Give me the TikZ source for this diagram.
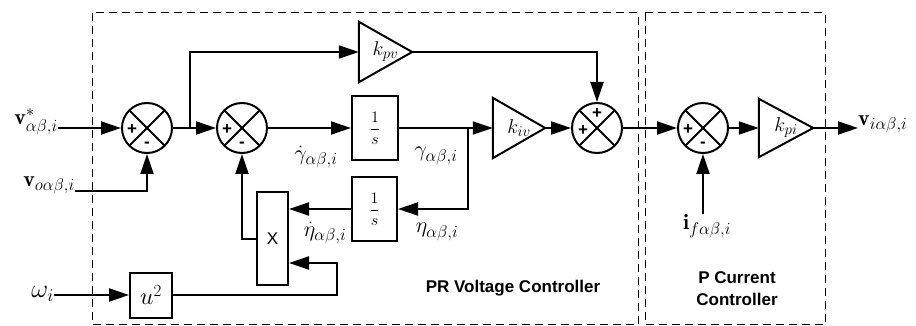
\documentclass[tikz,border=0pt]{standalone}
\usepackage{fix-cm}
\usepackage{amsmath}
\usepackage{fontspec}
\setsansfont{Liberation Sans}
\usetikzlibrary{arrows.meta}
\DeclareMathSizes{26}{26}{18}{13}
\DeclareMathSizes{24}{24}{17}{12}
\DeclareMathSizes{22}{22}{17}{12}
\DeclareMathSizes{20}{20}{15}{10}
\DeclareMathSizes{16}{16}{12}{9}
\tikzset{
  lbl/.style={font=\fontsize{22}{26}\selectfont, inner sep=0pt},
  blk/.style={draw, line width=2pt, inner sep=0pt},
  amp/.style={inner sep=0pt, font=\fontsize{20}{24}\selectfont},
  tri/.style={line width=2pt, line join=miter},
  arr/.style={line width=2pt, -{Triangle[length=20pt,width=13pt]}},
  sgn/.style={font=\sffamily\bfseries\fontsize{17}{18}\selectfont, inner sep=0pt},
  dbox/.style={line width=1pt, dash pattern=on 8pt off 5pt},
  ttl/.style={font=\sffamily\bfseries\fontsize{17}{22}\selectfont, inner sep=0pt, align=center},
  sumj/.style={circle, draw, line width=2pt, minimum size=50pt, inner sep=0pt,
    path picture={\draw[line width=2pt]
      ([shift={(45:30pt)}]path picture bounding box.center) -- ([shift={(225:30pt)}]path picture bounding box.center)
      ([shift={(135:30pt)}]path picture bounding box.center) -- ([shift={(-45:30pt)}]path picture bounding box.center);}},
  summ/.style={sumj, label={[sgn,xshift=-15pt,yshift=-2pt]center:+}, label={[sgn,yshift=-17pt]center:-}},
  sump/.style={sumj, label={[sgn,yshift=14pt]center:+}, label={[sgn,xshift=-14pt,yshift=-3pt]center:+}},
}
\begin{document}
\begin{tikzpicture}[x=1pt,y=-1pt]
\useasboundingbox (0,0) rectangle (916,326);
% controller frames
\draw[dbox] (92,13) rectangle (638,324.5);
\draw[dbox] (645,13) rectangle (825,324.5);

% summing junctions
\node[summ] (S1) at (147,128) {};
\node[summ] (S2) at (242,128) {};
\node[sump] (S3) at (597,128) {};
\node[summ] (S4) at (703,128) {};

% gains
\node[amp, minimum width=53pt, minimum height=60pt] (kpv) at (385.5,52) {$k_{pv}$\hspace{6pt}};
\draw[tri] (kpv.north west) -- (kpv.east) -- (kpv.south west) -- cycle;
\node[amp, minimum width=52pt, minimum height=60pt] (kiv) at (519,128) {$k_{iv}$\hspace{6pt}};
\draw[tri] (kiv.north west) -- (kiv.east) -- (kiv.south west) -- cycle;
\node[amp, minimum width=54pt, minimum height=58pt] (kpi) at (786,128) {$k_{pi}$\hspace{6pt}};
\draw[tri] (kpi.north west) -- (kpi.east) -- (kpi.south west) -- cycle;

% blocks
\node[blk, minimum width=46pt, minimum height=64pt, font=\fontsize{16}{18}\selectfont] (int1) at (375,128) {$\dfrac{1}{s}$};
\node[blk, minimum width=45pt, minimum height=64pt, font=\fontsize{16}{18}\selectfont] (int2) at (374.5,209) {$\dfrac{1}{s}$};
\node[blk, minimum width=31pt, minimum height=93pt, font=\sffamily\fontsize{17}{20}\selectfont] (xb) at (272.5,238.5) {X};
\node[blk, minimum width=42pt, minimum height=45pt, font=\fontsize{24}{28}\selectfont] (u2) at (151,295) {$u^2$};

% signal labels
\node[lbl, anchor=east] (vref) at (58,122) {$\mathbf{v}^{*}_{\alpha\beta,i}$};
\node[lbl, anchor=east] (vo) at (75,185) {$\mathbf{v}_{o\alpha\beta,i}$};
\node[lbl, anchor=east, font=\fontsize{26}{30}\selectfont] (om) at (54,294) {$\omega_i$};
\node[lbl] (gd) at (316,157) {$\dot{\gamma}_{\alpha\beta,i}$};
\node[lbl] (gm) at (436,156) {$\gamma_{\alpha\beta,i}$};
\node[lbl] (ed) at (325,233) {$\dot{\eta}_{\alpha\beta,i}$};
\node[lbl] (et) at (437,232) {$\eta_{\alpha\beta,i}$};
\node[lbl] (ifl) at (707,226) {$\mathbf{i}_{f\alpha\beta,i}$};
\node[lbl, anchor=west] (vout) at (858,124) {$\mathbf{v}_{i\alpha\beta,i}$};

% titles
\node[ttl] (prl) at (513,288) {PR Voltage Controller};
\node[ttl] (pcl) at (737,289) {P Current\\Controller};

% connectors
\draw[arr] (S1.west -| vref.east) -- (S1.west);
\draw[arr] ([yshift=-6pt]vo.east) -| (S1.south);
\draw[arr] (S1.east) -- (S2.west);
\draw[arr] (S1.east) ++(17,0) |- (kpv.west);
\draw[arr] (kpv.east) -| (S3.north);
\draw[arr] (S2.east) -- (int1.west);
\draw[arr] (int1.east) -- (kiv.west);
\draw[arr] (int1.east) ++(69,0) |- (int2.east);
\draw[arr] (int2.west) -- (int2.west -| xb.east);
\draw[arr] (xb.west) -| (S2.south);
\draw[arr] (u2.west -| om.east) -- (u2.west);
\draw[arr] (u2.east) -- ++(164,0) |- ([yshift=-24.5pt]xb.east);
\draw[arr] (kiv.east) -- (S3.west);
\draw[arr] (S3.east) -- (S4.west);
\draw[arr] (S4.east) -- (kpi.west);
\draw[arr] (kpi.east) -- (kpi.east -| vout.west);
\draw[arr] (S4.south |- ifl.north) -- (S4.south);
\end{tikzpicture}
\end{document}
